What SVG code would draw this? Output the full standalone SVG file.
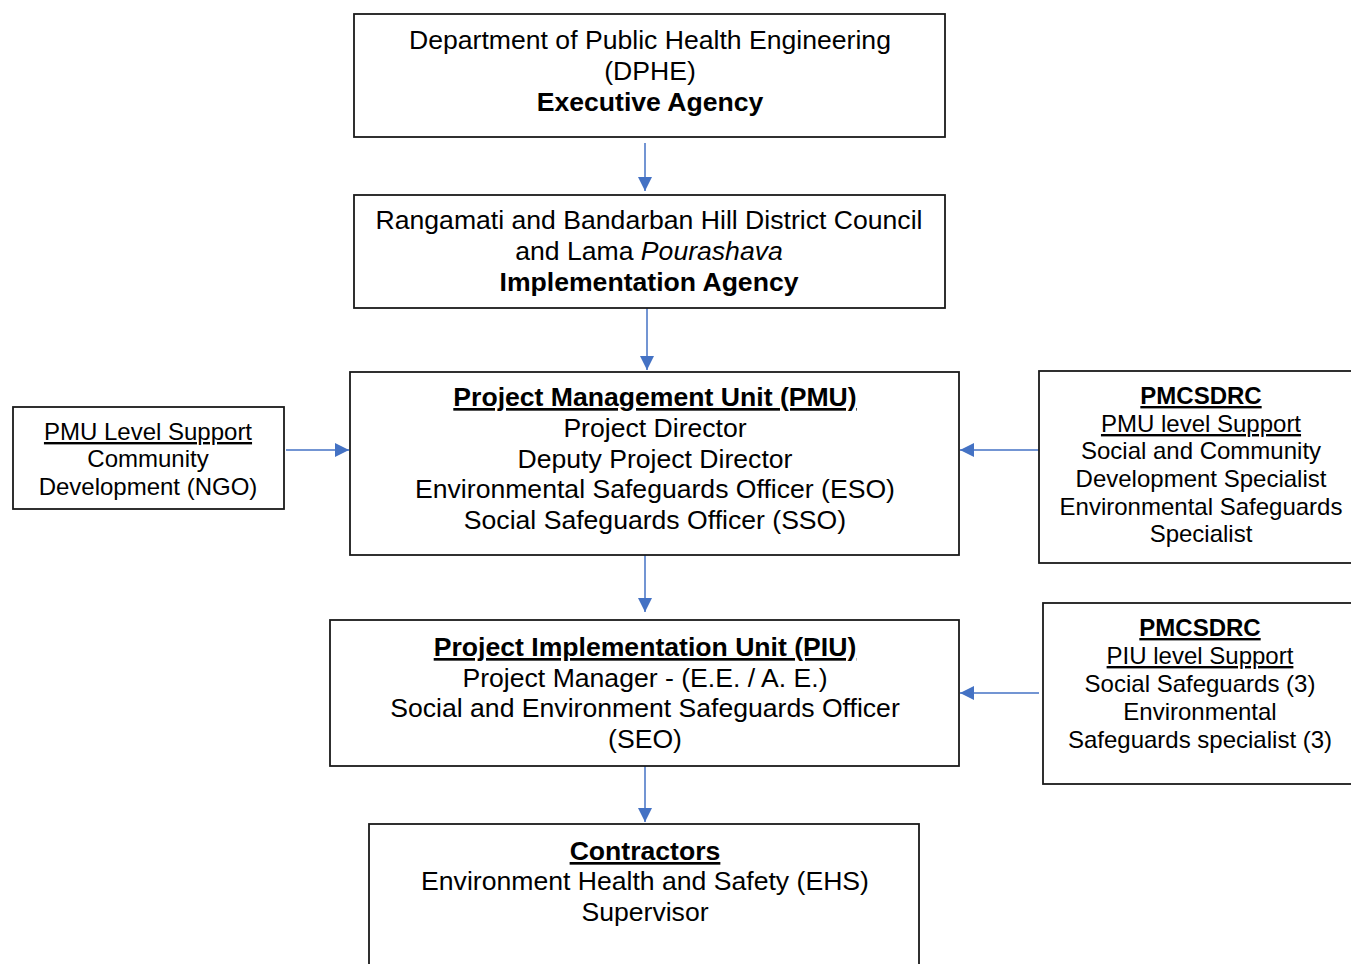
<svg xmlns="http://www.w3.org/2000/svg" width="1351" height="964" viewBox="0 0 1351 964">
  <style>
    .box { fill: #ffffff; stroke: #1a1a1a; stroke-width: 1.8; }
    .main { font-family: "Liberation Sans", Arial, sans-serif; font-size: 26.6px; fill: #000; text-anchor: middle; }
    .side { font-family: "Liberation Sans", Arial, sans-serif; font-size: 24px; fill: #000; text-anchor: middle; }
    .b { font-weight: bold; }
    .u { text-decoration: underline; }
    .i { font-style: italic; }
    .link { stroke: #4472C4; stroke-width: 1.5; fill: none; marker-end: url(#head); }
  </style>
  <defs>
    <marker id="head" viewBox="0 0 14 14" refX="14" refY="7" markerWidth="14" markerHeight="14" markerUnits="userSpaceOnUse" orient="auto">
      <path d="M0,0 L14,7 L0,14 Z" fill="#4472C4"/>
    </marker>
  </defs>
  <rect width="1351" height="964" fill="#ffffff"/>

  <g id="connectors">
    <line class="link" x1="645" y1="143" x2="645" y2="191"/>
    <line class="link" x1="647" y1="308" x2="647" y2="370"/>
    <line class="link" x1="286" y1="450" x2="349" y2="450"/>
    <line class="link" x1="1039" y1="450" x2="960" y2="450"/>
    <line class="link" x1="645" y1="555" x2="645" y2="612"/>
    <line class="link" x1="1039" y1="693" x2="960" y2="693"/>
    <line class="link" x1="645" y1="766" x2="645" y2="822"/>
  </g>

  <g id="dphe">
    <rect class="box" x="354" y="14" width="591" height="123"/>
    <text class="main" x="650" y="49">Department of Public Health Engineering</text>
    <text class="main" x="650" y="80">(DPHE)</text>
    <text class="main b" x="650" y="111">Executive Agency</text>
  </g>

  <g id="council">
    <rect class="box" x="354" y="195" width="591" height="113"/>
    <text class="main" x="649" y="229">Rangamati and Bandarban Hill District Council</text>
    <text class="main" x="649" y="260">and Lama <tspan class="i">Pourashava</tspan></text>
    <text class="main b" x="649" y="291">Implementation Agency</text>
  </g>

  <g id="pmu">
    <rect class="box" x="350" y="372" width="609" height="183"/>
    <text class="main b u" x="655" y="406">Project Management Unit (PMU)</text>
    <text class="main" x="655" y="437">Project Director</text>
    <text class="main" x="655" y="468">Deputy Project Director</text>
    <text class="main" x="655" y="498">Environmental Safeguards Officer (ESO)</text>
    <text class="main" x="655" y="529">Social Safeguards Officer (SSO)</text>
  </g>

  <g id="ngo-support">
    <rect class="box" x="13" y="407" width="271" height="102"/>
    <text class="side u" x="148" y="440">PMU Level Support</text>
    <text class="side" x="148" y="467">Community</text>
    <text class="side" x="148" y="495">Development (NGO)</text>
  </g>

  <g id="pmcsdrc-pmu">
    <rect class="box" x="1039" y="371" width="320" height="192"/>
    <text class="side b u" x="1201" y="404">PMCSDRC</text>
    <text class="side u" x="1201" y="432">PMU level Support</text>
    <text class="side" x="1201" y="459">Social and Community</text>
    <text class="side" x="1201" y="487">Development Specialist</text>
    <text class="side" x="1201" y="515">Environmental Safeguards</text>
    <text class="side" x="1201" y="542">Specialist</text>
  </g>

  <g id="piu">
    <rect class="box" x="330" y="620" width="629" height="146"/>
    <text class="main b u" x="645" y="656">Project Implementation Unit (PIU)</text>
    <text class="main" x="645" y="687">Project Manager - (E.E. / A. E.)</text>
    <text class="main" x="645" y="717">Social and Environment Safeguards Officer</text>
    <text class="main" x="645" y="748">(SEO)</text>
  </g>

  <g id="pmcsdrc-piu">
    <rect class="box" x="1043" y="603" width="316" height="181"/>
    <text class="side b u" x="1200" y="636">PMCSDRC</text>
    <text class="side u" x="1200" y="664">PIU level Support</text>
    <text class="side" x="1200" y="692">Social Safeguards (3)</text>
    <text class="side" x="1200" y="720">Environmental</text>
    <text class="side" x="1200" y="748">Safeguards specialist (3)</text>
  </g>

  <g id="contractors">
    <rect class="box" x="369" y="824" width="550" height="150"/>
    <text class="main b u" x="645" y="860">Contractors</text>
    <text class="main" x="645" y="890">Environment Health and Safety (EHS)</text>
    <text class="main" x="645" y="921">Supervisor</text>
  </g>
</svg>
